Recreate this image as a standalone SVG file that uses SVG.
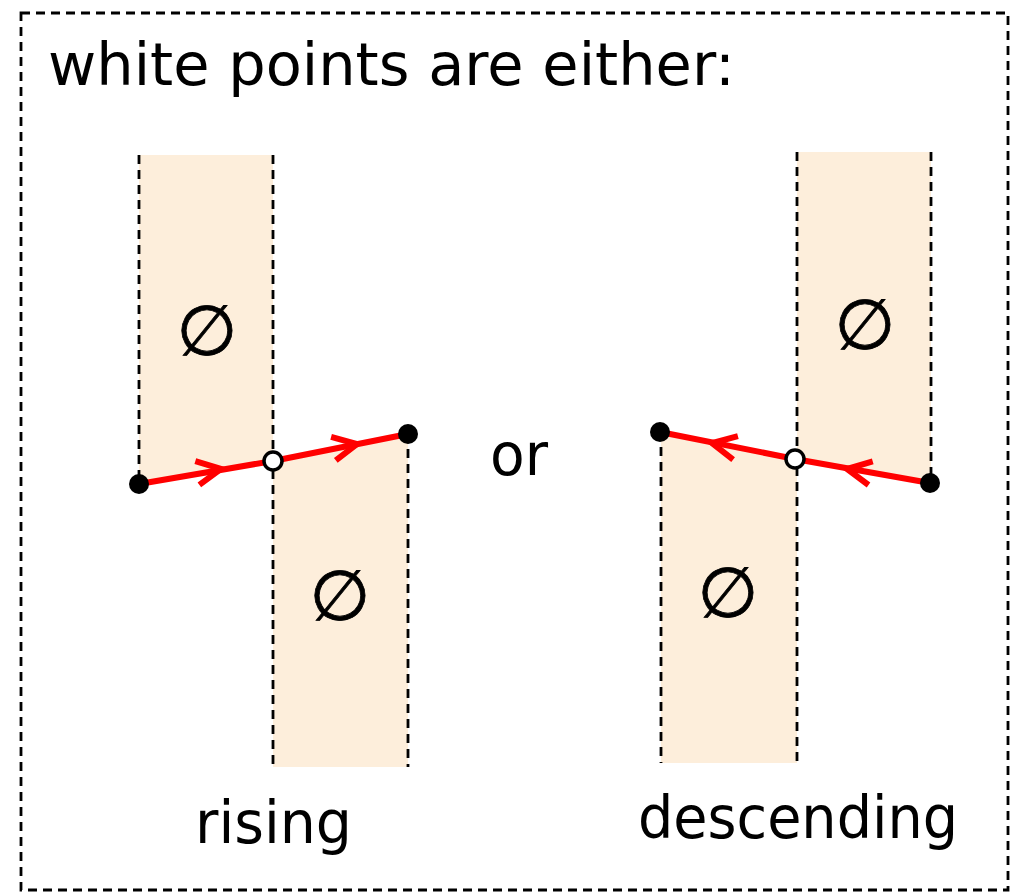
<svg xmlns="http://www.w3.org/2000/svg" width="1018" height="895" viewBox="0 0 1018 895">
<defs>
<style>
.fill{fill:#fdeedb;stroke:none}
.dash{stroke:#000;stroke-width:2.8;stroke-dasharray:9,6;fill:none}
.path{stroke:#ff0000;stroke-width:6;fill:none;stroke-linecap:butt}
.chev{stroke:#ff0000;stroke-width:6;fill:none}
.blk{fill:#000}
.wht{fill:#fff;stroke:#000;stroke-width:3.5}
.lbl{font-family:"DejaVu Sans","Liberation Sans",sans-serif;fill:#000;font-size:59px}
.sym{font-family:"DejaVu Sans",sans-serif;font-size:70px;fill:#000;stroke:#000;stroke-width:0.8;text-anchor:middle}
</style>
</defs>
<rect x="21" y="13" width="987" height="877" class="dash"/>
<text class="lbl" x="48" y="85" textLength="687" lengthAdjust="spacingAndGlyphs">white points are either:</text>
<g id="rising">
<polygon class="fill" points="139,155 273,155 273,461 139,484"/>
<polygon class="fill" points="273,461 408,434 408,767 273,767"/>
<line class="dash" x1="139" y1="155" x2="139" y2="484"/>
<line class="dash" x1="273" y1="155" x2="273" y2="767"/>
<line class="dash" x1="408" y1="434" x2="408" y2="767"/>
<text class="sym" x="207" y="355">∅</text>
<text class="sym" x="340" y="620">∅</text>
</g>
<g id="descending">
<polygon class="fill" points="797,152 931,152 931,483 797,459"/>
<polygon class="fill" points="661,432 797,459 797,763 661,763"/>
<line class="dash" x1="661" y1="432" x2="661" y2="763"/>
<line class="dash" x1="797" y1="152" x2="797" y2="763"/>
<line class="dash" x1="931" y1="152" x2="931" y2="483"/>
<text class="sym" x="865" y="349">∅</text>
<text class="sym" x="728" y="617">∅</text>
</g>
<g id="connectors">
<polyline class="path" points="139,484 273,461 408,434"/>
<polyline class="path" points="930,483 795,459 660,432"/>
<g transform="translate(221,469) rotate(-9.7)"><polyline class="chev" points="-24,-12 0,0 -24,12"/></g>
<g transform="translate(357,444) rotate(-11.3)"><polyline class="chev" points="-24,-12 0,0 -24,12"/></g>
<g transform="translate(712,443) rotate(191.5)"><polyline class="chev" points="-24,-12 0,0 -24,12"/></g>
<g transform="translate(847,469) rotate(190.1)"><polyline class="chev" points="-24,-12 0,0 -24,12"/></g>
</g>
<g id="points">
<circle class="blk" cx="139" cy="484" r="10"/>
<circle class="wht" cx="273" cy="461" r="9"/>
<circle class="blk" cx="408" cy="434" r="10"/>
<circle class="blk" cx="660" cy="432" r="10"/>
<circle class="wht" cx="795" cy="459" r="9"/>
<circle class="blk" cx="930" cy="483" r="10"/>
</g>
<text class="lbl" x="490" y="475" textLength="58" lengthAdjust="spacingAndGlyphs">or</text>
<text class="lbl" x="195" y="843" textLength="157" lengthAdjust="spacingAndGlyphs">rising</text>
<text class="lbl" x="638" y="838" textLength="320" lengthAdjust="spacingAndGlyphs">descending</text>
</svg>
